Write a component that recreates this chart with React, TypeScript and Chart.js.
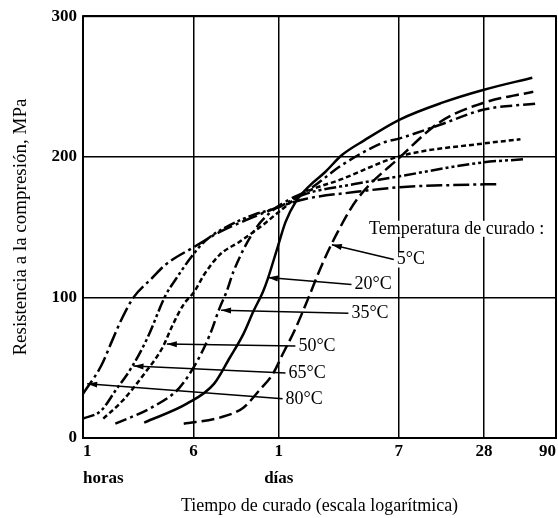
import React, { useEffect, useRef } from 'react';
import { Chart, registerables } from 'chart.js';

Chart.register(...registerables);

const FONT = '"Liberation Serif", "Times New Roman", serif';

// X axis: curing time in hours (log scale)
const xTickHours = [1, 6, 24, 168, 672, 2160];
const xTickLabels = [['1', 'horas'], ['6'], ['1', 'días'], ['7'], ['28'], ['90']];
const yTickValues = [0, 100, 200, 300];

// Series (hours, MPa)
const hours5C = [5.13, 9.22, 13.5, 17.4, 21.8, 25.6, 31.5, 38.7, 48.4, 62.5, 85.9, 171, 325, 671, 1494];
const mpa5C = [10.2, 14.5, 21.6, 33.6, 45.6, 59.7, 78.0, 99.3, 123.3, 146.6, 170.0, 199.6, 224.4, 238.5, 246.3];

const hours20C = [2.7, 5.4, 8.38, 10.8, 13.5, 15.9, 18.6, 20.1, 23.6, 26.8, 31.5, 40.0, 50.8, 66.6, 96.1, 171, 341, 671, 1470];
const mpa20C = [11.0, 24.4, 38.5, 56.9, 73.9, 90.1, 104.2, 113.4, 136.0, 153.7, 167.8, 179.9, 189.0, 201.1, 211.7, 226.5, 238.5, 247.7, 256.2];

const hours35C = [1.69, 3.04, 4.78, 6.39, 7.87, 9.22, 10.3, 11.5, 15.9, 21.1, 28.1, 38.7, 66.6, 132, 171, 325, 671, 1542];
const mpa35C = [10.2, 21.6, 35.7, 54.8, 73.9, 92.9, 104.2, 118.4, 146.6, 160.8, 169.3, 176.3, 194.0, 210.2, 213.1, 222.6, 233.6, 237.8];

const hours50C = [1.39, 1.9, 2.7, 3.62, 4.31, 5.13, 6.1, 7.15, 9.22, 12.7, 18.6, 24.0, 35.2, 66.6, 171, 671, 1213];
const mpa50C = [13.8, 26.5, 45.6, 64.0, 80.9, 95.1, 104.2, 116.3, 130.4, 139.6, 151.6, 160.8, 173.5, 184.1, 200.4, 209.5, 212.4];

const hours65C = [1.0, 1.34, 1.69, 2.19, 2.84, 3.82, 4.54, 5.69, 7.15, 10.3, 15.9, 24.0, 35.2, 81.9, 171, 671, 1273];
const mpa65C = [13.8, 19.4, 33.6, 49.8, 71.0, 101.4, 113.4, 127.6, 139.6, 150.2, 158.7, 164.3, 172.8, 180.6, 186.2, 196.1, 198.2];

const hours80C = [1.0, 1.34, 1.6, 1.9, 2.27, 3.04, 3.82, 6.1, 9.22, 14.2, 24.0, 36.9, 81.9, 171, 399, 854];
const mpa80C = [31.4, 51.2, 68.9, 85.9, 100.0, 113.4, 123.3, 136.0, 146.6, 155.1, 164.3, 170.0, 174.9, 178.4, 179.9, 180.6];

// Annotation labels (leader lines with arrows)
const headerText = 'Temperatura de curado :';
const headerHours = 104;
const headerMPa = 148.8;
const curveLabels = ['5°C', '20°C', '35°C', '50°C', '65°C', '80°C'];
const labelHours = [163, 82, 78, 33, 28.1, 26.8];
const labelMPa = [126.9, 109.2, 88.7, 65.4, 46.3, 27.9];
const arrowHours = [56.8, 20.1, 9.4, 3.9, 2.27, 1.07];
const arrowMPa = [137.5, 114.1, 90.8, 66.8, 51.2, 38.5];

const seriesDefs = [
  { name: '5°C', hours: hours5C, mpa: mpa5C, dash: [13, 5] },
  { name: '20°C', hours: hours20C, mpa: mpa20C, dash: [] as number[] },
  { name: '35°C', hours: hours35C, mpa: mpa35C, dash: [12, 4, 3, 4] },
  { name: '50°C', hours: hours50C, mpa: mpa50C, dash: [5, 3] },
  { name: '65°C', hours: hours65C, mpa: mpa65C, dash: [12, 3, 3, 3, 3, 3] },
  { name: '80°C', hours: hours80C, mpa: mpa80C, dash: [16, 4, 3, 4] },
];

function textWithBg(ctx: CanvasRenderingContext2D, text: string, x: number, y: number) {
  const w = ctx.measureText(text).width;
  ctx.save();
  ctx.fillStyle = '#fff';
  ctx.fillRect(x - 1, y - 8, w + 2, 16);
  ctx.restore();
  ctx.fillText(text, x, y);
}

const annotationPlugin = {
  id: 'annotations',
  afterDatasetsDraw(chart: any) {
    const { ctx, scales, chartArea } = chart;
    const x = scales.x;
    const y = scales.y;
    ctx.save();
    // frame
    ctx.strokeStyle = '#000';
    ctx.lineWidth = 2;
    ctx.strokeRect(chartArea.left, chartArea.top, chartArea.right - chartArea.left, chartArea.bottom - chartArea.top);

    ctx.fillStyle = '#000';
    ctx.font = `18px ${FONT}`;
    ctx.textAlign = 'left';
    ctx.textBaseline = 'middle';
    textWithBg(ctx, headerText, x.getPixelForValue(headerHours), y.getPixelForValue(headerMPa));

    curveLabels.forEach((lab, i) => {
      const lx = x.getPixelForValue(labelHours[i]);
      const ly = y.getPixelForValue(labelMPa[i]);
      const tx = x.getPixelForValue(arrowHours[i]);
      const ty = y.getPixelForValue(arrowMPa[i]);
      const ex = lx - 3;
      const ey = ly;
      ctx.lineWidth = 1.5;
      ctx.beginPath();
      ctx.moveTo(ex, ey);
      ctx.lineTo(tx, ty);
      ctx.stroke();
      const ang = Math.atan2(ty - ey, tx - ex);
      const L = 10;
      const W = 3;
      const c = Math.cos(ang);
      const s = Math.sin(ang);
      ctx.beginPath();
      ctx.moveTo(tx, ty);
      ctx.lineTo(tx - L * c - W * s, ty - L * s + W * c);
      ctx.lineTo(tx - L * c + W * s, ty - L * s - W * c);
      ctx.closePath();
      ctx.fill();
      textWithBg(ctx, lab, lx, ly);
    });
    ctx.restore();
  },
};

export default function App() {
  const ref = useRef<HTMLCanvasElement>(null);
  useEffect(() => {
    const datasets = seriesDefs.map((s) => ({
      label: s.name,
      data: s.hours.map((h, i) => ({ x: h, y: s.mpa[i] })),
      borderColor: '#000',
      backgroundColor: '#000',
      borderWidth: 2.5,
      borderDash: s.dash,
      pointRadius: 0,
      fill: false,
      cubicInterpolationMode: 'monotone' as const,
    }));
    const chart = new Chart(ref.current as HTMLCanvasElement, {
      type: 'line',
      data: { datasets },
      plugins: [annotationPlugin],
      options: {
        animation: false,
        responsive: false,
        layout: { padding: { top: 13, right: 2, left: 0, bottom: 0 } },
        plugins: { legend: { display: false }, tooltip: { enabled: false } },
        scales: {
          x: {
            type: 'logarithmic',
            min: 1,
            max: 2160,
            afterBuildTicks: (scale: any) => {
              scale.ticks = xTickHours.map((v) => ({ value: v }));
            },
            afterFit: (scale: any) => {
              scale.height = 80;
            },
            ticks: {
              align: 'inner',
              padding: 0,
              maxRotation: 0,
              autoSkip: false,
              color: '#000',
              font: { family: FONT, size: 17, weight: 'bold', lineHeight: 1.59 },
              callback: (_v: any, i: number) => xTickLabels[i],
            },
            grid: { color: '#000', lineWidth: 1.5, drawTicks: false },
            border: { display: false },
            title: {
              display: true,
              text: 'Tiempo de curado (escala logarítmica)',
              color: '#000',
              font: { family: FONT, size: 18 },
              padding: { top: 0, bottom: 1 },
            },
          },
          y: {
            min: 0,
            max: 300,
            afterBuildTicks: (scale: any) => {
              scale.ticks = yTickValues.map((v) => ({ value: v }));
            },
            afterFit: (scale: any) => {
              scale.width = 83;
            },
            ticks: {
              padding: 6,
              color: '#000',
              font: { family: FONT, size: 17, weight: 'bold' },
            },
            grid: { color: '#000', lineWidth: 1.5, drawTicks: false },
            border: { display: false },
            title: {
              display: true,
              text: 'Resistencia a la compresión, MPa',
              color: '#000',
              font: { family: FONT, size: 19 },
              padding: { top: 10, bottom: 0 },
            },
          },
        },
      } as any,
    });
    return () => chart.destroy();
  }, []);
  return (
    <div style={{ position: 'absolute', left: 0, top: 0, width: 558, height: 518, background: '#fff' }}>
      <canvas ref={ref} width={558} height={518} style={{ display: 'block', width: 558, height: 518 }} />
    </div>
  );
}
